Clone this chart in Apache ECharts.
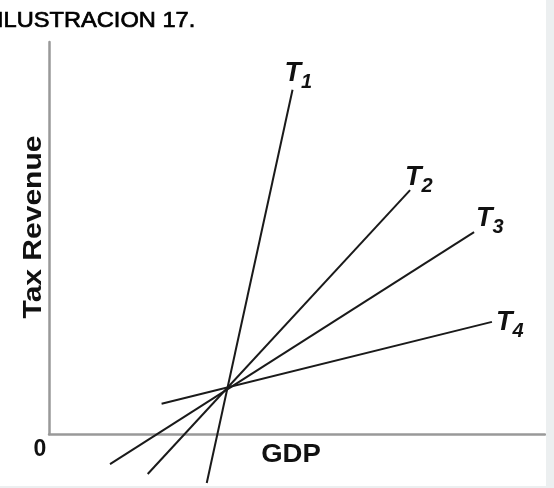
<!DOCTYPE html>
<html>
<head>
<meta charset="utf-8">
<script src="https://cdn.jsdelivr.net/npm/echarts@6/dist/echarts.min.js"></script>
<style>
  html, body { margin: 0; padding: 0; background: #eceff0; }
  #chart { width: 546px; height: 486px; background: #ffffff; }
</style>
</head>
<body>
<div id="chart"></div>
<script>
// curve names and their end points (GDP, tax revenue)
var names = ["1", "2", "3", "4"];
var t1 = [[31.8, -12.5], [49.1, 87.8]];
var t2 = [[19.9, -10.2], [72.8, 62.2]];
var t3 = [[12.3, -7.7], [85.7, 51.5]];
var t4 = [[22.7, 7.7], [89.3, 28.6]];
var lines = [t1, t2, t3, t4];
// where each label sits relative to the line end
var labelOffsets = [[-16, -16], [-13, -13], [-6, -14], [-4, 1]];

var chart = echarts.init(document.getElementById("chart"));

var series = lines.map(function (d, i) {
  return {
    type: "line",
    data: d,
    symbol: "none",
    clip: false,
    silent: true,
    lineStyle: { color: "#1a1a1a", width: 2 },
    endLabel: {
      show: true,
      offset: labelOffsets[i],
      formatter: "{t|T}{s|" + names[i] + "}",
      rich: {
        t: { fontFamily: "Liberation Sans", fontSize: 27, fontWeight: "bold", fontStyle: "italic", color: "#111" },
        s: { fontFamily: "Liberation Sans", fontSize: 20, fontWeight: "bold", fontStyle: "italic", color: "#111", padding: [18, 0, 0, 0] }
      }
    }
  };
});

var bold = { fontFamily: "Liberation Sans", fontWeight: "bold", fill: "#111" };

chart.setOption({
  animation: false,
  grid: { left: 49, top: 42, right: 1, bottom: 52, outerBoundsMode: "none", containLabel: false },
  xAxis: {
    type: "value",
    min: 0,
    max: 100,
    axisLine: { lineStyle: { color: "#999", width: 2.5 } },
    axisTick: { show: false },
    axisLabel: { show: false },
    splitLine: { show: false }
  },
  yAxis: {
    type: "value",
    min: 0,
    max: 100,
    axisLine: { show: true, lineStyle: { color: "#999", width: 2.5 } },
    axisTick: { show: false },
    axisLabel: { show: false },
    splitLine: { show: false }
  },
  graphic: [
    {
      type: "text", x: -3, y: 20.5, scaleX: 1.05,
      style: { text: "ILUSTRACION 17.", fontFamily: "Liberation Sans", fontSize: 22.5, fill: "#000", stroke: "#000", lineWidth: 0.7, textVerticalAlign: "middle" }
    },
    {
      type: "text", x: 34, y: 227, rotation: Math.PI / 2, scaleX: 1.2,
      style: Object.assign({ text: "Tax Revenue", fontSize: 25, align: "center", verticalAlign: "middle" }, bold)
    },
    {
      type: "text", x: 291, y: 455.5, scaleX: 1.1,
      style: Object.assign({ text: "GDP", fontSize: 25, align: "center", verticalAlign: "middle" }, bold)
    },
    {
      type: "text", x: 40, y: 450,
      style: Object.assign({ text: "0", fontSize: 23, align: "center", verticalAlign: "middle" }, bold)
    }
  ],
  series: series
});
</script>
</body>
</html>
